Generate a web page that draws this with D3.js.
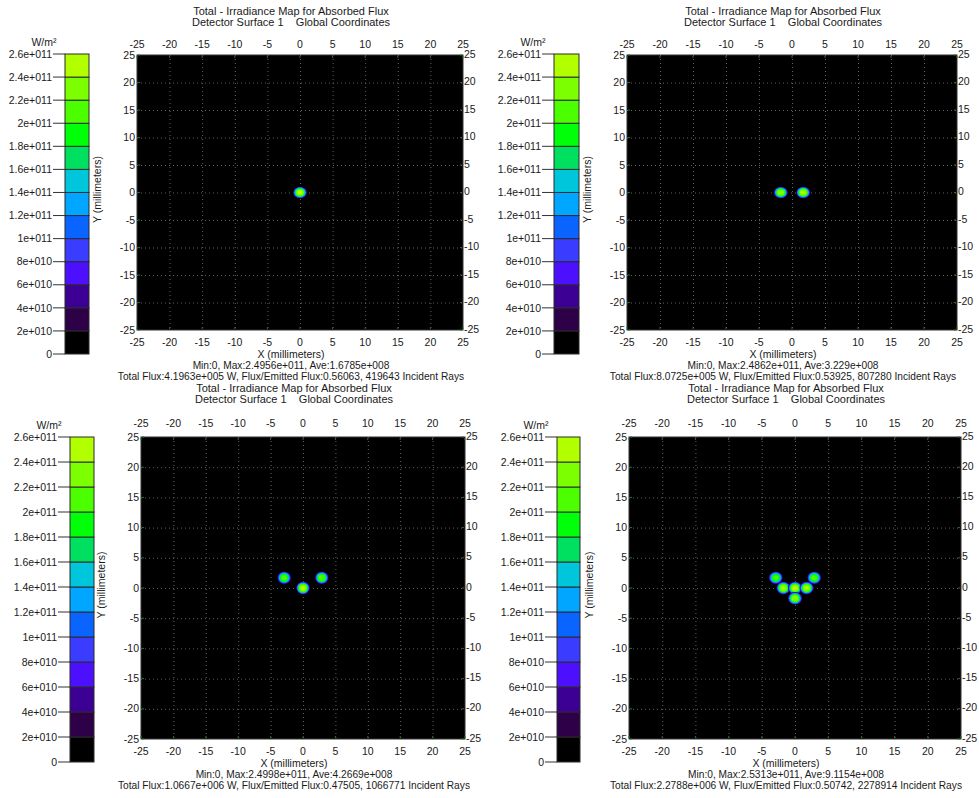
<!DOCTYPE html>
<html>
<head>
<meta charset="UTF-8">
<title>Irradiance Maps</title>
<script src="https://cdn.jsdelivr.net/npm/d3@7"></script>
<style>
body { margin: 0; background: #fff; }
svg { display: block; font-family: "Liberation Sans", Arial, sans-serif; }
.txt { fill: #1a1a1a; }
</style>
</head>
<body>
<svg id="chart" width="979" height="798"></svg>
<script>
// --- data ---
var titleLines = ["Total - Irradiance Map for Absorbed Flux", "Detector Surface 1    Global Coordinates"];
var axisTicks = [-25, -20, -15, -10, -5, 0, 5, 10, 15, 20, 25];
var barLevels = [0, 2e10, 4e10, 6e10, 8e10, 1e11, 1.2e11, 1.4e11, 1.6e11, 1.8e11, 2e11, 2.2e11, 2.4e11, 2.6e11];
var barLabels = ["0", "2e+010", "4e+010", "6e+010", "8e+010", "1e+011", "1.2e+011", "1.4e+011", "1.6e+011", "1.8e+011", "2e+011", "2.2e+011", "2.4e+011", "2.6e+011"];
var barColors = ["#000000", "#2e0048", "#3d0094", "#4c10ff", "#3a3cff", "#0a64ff", "#00a6ff", "#00c6dc", "#00e060", "#00ff08", "#4cff00", "#7cff00", "#b2ff00"];
var statsLines = [
  ["Min:0, Max:2.4956e+011, Ave:1.6785e+008", "Total Flux:4.1963e+005 W, Flux/Emitted Flux:0.56063, 419643 Incident Rays"],
  ["Min:0, Max:2.4862e+011, Ave:3.229e+008", "Total Flux:8.0725e+005 W, Flux/Emitted Flux:0.53925, 807280 Incident Rays"],
  ["Min:0, Max:2.4998e+011, Ave:4.2669e+008", "Total Flux:1.0667e+006 W, Flux/Emitted Flux:0.47505, 1066771 Incident Rays"],
  ["Min:0, Max:2.5313e+011, Ave:9.1154e+008", "Total Flux:2.2788e+006 W, Flux/Emitted Flux:0.50742, 2278914 Incident Rays"]
];
// spot centres (mm) and peak irradiance (W/m²)
var spots1 = [{x: 0, y: 0, peak: 2.4956e11}];
var spots2 = [{x: -1.7, y: 0, peak: 2.40e11}, {x: 1.7, y: 0, peak: 2.4862e11}];
var spots3 = [{x: -2.9, y: 1.7, peak: 2.15e11}, {x: 2.9, y: 1.7, peak: 2.2e11}, {x: 0, y: 0, peak: 2.4998e11}];
var spots4 = [{x: -2.9, y: 1.7, peak: 2.1e11}, {x: 2.9, y: 1.7, peak: 2.15e11},
              {x: -1.75, y: 0, peak: 2.45e11}, {x: 0, y: 0, peak: 2.5313e11}, {x: 1.75, y: 0, peak: 2.45e11},
              {x: 0, y: -1.7, peak: 2.4e11}];
// spot profile: fraction of peak -> radius (mm)
var profFrac = [0, 0.2, 0.4, 0.6, 0.8, 0.9, 0.97, 1];
var profRad = [1.08, 1.0, 0.9, 0.78, 0.62, 0.5, 0.34, 0];

// --- layout ---
var panels = [
  {spots: spots1, stats: statsLines[0], plot: [137, 463, 55, 330], bar: [65, 89, 54, 354], titleY: 11, topY: 44},
  {spots: spots2, stats: statsLines[1], plot: [627, 957, 55, 330], bar: [554, 579, 54, 354], titleY: 11, topY: 44},
  {spots: spots3, stats: statsLines[2], plot: [141, 465, 437, 739], bar: [70, 94, 437, 762], titleY: 388, topY: 423},
  {spots: spots4, stats: statsLines[3], plot: [629, 961, 437, 739], bar: [557, 580, 437, 762], titleY: 388, topY: 423}
];

var svg = d3.select("#chart");
svg.append("rect").attr("width", 979).attr("height", 798).attr("fill", "#fff");
var defs = svg.append("defs");
defs.append("filter").attr("id", "soft").attr("x", "-50%").attr("y", "-50%").attr("width", "200%").attr("height", "200%")
  .append("feGaussianBlur").attr("stdDeviation", 0.7);

var profile = d3.scaleLinear().domain(profFrac).range(profRad).clamp(true);

panels.forEach(function(p) {
  var x = d3.scaleLinear().domain([-25, 25]).range([p.plot[0], p.plot[1]]),
      y = d3.scaleLinear().domain([-25, 25]).range([p.plot[3], p.plot[2]]),
      cb = d3.scaleLinear().domain([0, 2.6e11]).range([p.bar[3], p.bar[2]]),
      cx = (p.plot[0] + p.plot[1]) / 2 - 9,
      g = svg.append("g");

  // titles
  titleLines.forEach(function(t, i) {
    g.append("text").attr("class", "txt").attr("x", cx).attr("y", p.titleY + i * 11.5)
      .attr("dy", "0.35em").attr("text-anchor", "middle").attr("font-size", 11)
      .style("white-space", "pre").text(t);
  });

  // plot background
  g.append("rect").attr("x", p.plot[0]).attr("y", p.plot[2])
    .attr("width", p.plot[1] - p.plot[0]).attr("height", p.plot[3] - p.plot[2])
    .attr("fill", "#000").attr("stroke", "#333");

  // grid
  g.selectAll(".gx").data(axisTicks.slice(1, -1)).enter().append("line")
    .attr("stroke", "#626262").attr("stroke-dasharray", "1,3")
    .attr("x1", function(d) { return x(d) + 0.5; }).attr("x2", function(d) { return x(d) + 0.5; })
    .attr("y1", p.plot[2]).attr("y2", p.plot[3]);
  g.selectAll(".gy").data(axisTicks.slice(1, -1)).enter().append("line")
    .attr("stroke", "#626262").attr("stroke-dasharray", "1,3")
    .attr("y1", function(d) { return y(d) + 0.5; }).attr("y2", function(d) { return y(d) + 0.5; })
    .attr("x1", p.plot[0]).attr("x2", p.plot[1]);
  // small green edge ticks
  axisTicks.forEach(function(d) {
    [[x(d), p.plot[2] + 1, x(d), p.plot[2] + 3], [x(d), p.plot[3] - 3, x(d), p.plot[3] - 1],
     [p.plot[0] + 1, y(d), p.plot[0] + 3, y(d)], [p.plot[1] - 3, y(d), p.plot[1] - 1, y(d)]].forEach(function(s) {
      g.append("line").attr("x1", s[0]).attr("y1", s[1]).attr("x2", s[2]).attr("y2", s[3])
        .attr("stroke", "#1f7a1f").attr("stroke-width", 1);
    });
  });

  // spots: concentric rings for every colour band below the peak
  var sg = g.append("g").attr("filter", "url(#soft)");
  var kx = Math.abs(x(1) - x(0)), ky = Math.abs(y(1) - y(0));
  p.spots.forEach(function(s) {
    barLevels.slice(1, -1).forEach(function(lv, i) {
      if (lv >= s.peak) return;
      var r = profile(lv / s.peak);
      sg.append("ellipse").attr("cx", x(s.x)).attr("cy", y(s.y))
        .attr("rx", r * kx).attr("ry", r * ky).attr("fill", barColors[i + 1]);
    });
  });

  // axis labels
  var fs = 10.5;
  axisTicks.forEach(function(d) {
    g.append("text").attr("class", "txt").attr("x", x(d)).attr("y", p.topY).attr("dy", "0.35em")
      .attr("text-anchor", "middle").attr("font-size", fs).text(d);
    g.append("text").attr("class", "txt").attr("x", x(d)).attr("y", p.plot[3] + 12).attr("dy", "0.35em")
      .attr("text-anchor", "middle").attr("font-size", fs).text(d);
    g.append("text").attr("class", "txt").attr("x", p.plot[0] - 2).attr("y", y(d)).attr("dy", "0.35em")
      .attr("text-anchor", "end").attr("font-size", fs).text(d);
    g.append("text").attr("class", "txt").attr("x", p.plot[1] + 1).attr("y", y(d) - 1).attr("dy", "0.35em")
      .attr("text-anchor", "start").attr("font-size", fs).text(d);
  });
  g.append("text").attr("class", "txt").attr("font-size", 10.5).attr("text-anchor", "middle")
    .attr("transform", "translate(" + (p.plot[0] - 40) + "," + ((p.plot[2] + p.plot[3]) / 2 - 3) + ") rotate(-90)")
    .attr("dy", "0.35em").text("Y (millimeters)");
  g.append("text").attr("class", "txt").attr("x", cx).attr("y", p.plot[3] + 24).attr("dy", "0.35em")
    .attr("text-anchor", "middle").attr("font-size", 10.5).text("X (millimeters)");
  p.stats.forEach(function(t, i) {
    g.append("text").attr("class", "txt").attr("x", cx).attr("y", p.plot[3] + 35 + i * 11).attr("dy", "0.35em")
      .attr("text-anchor", "middle").attr("font-size", 10.2).text(t);
  });

  // colour bar
  var bw = p.bar[1] - p.bar[0];
  barColors.forEach(function(c, i) {
    g.append("rect").attr("x", p.bar[0]).attr("y", cb(barLevels[i + 1]))
      .attr("width", bw).attr("height", cb(barLevels[i]) - cb(barLevels[i + 1]))
      .attr("fill", c).attr("stroke", "#2a2a2a").attr("stroke-width", 1);
  });
  barLevels.forEach(function(lv, i) {
    g.append("line").attr("x1", p.bar[0] - 12).attr("x2", p.bar[0]).attr("y1", cb(lv)).attr("y2", cb(lv))
      .attr("stroke", "#333");
    g.append("text").attr("class", "txt").attr("x", p.bar[0] - 13).attr("y", cb(lv)).attr("dy", "0.35em")
      .attr("text-anchor", "end").attr("font-size", 10.5).text(barLabels[i]);
  });
  g.append("text").attr("class", "txt").attr("x", p.bar[0] - 21).attr("y", p.bar[2] - 12).attr("dy", "0.35em")
    .attr("text-anchor", "middle").attr("font-size", 10.5).text("W/m²");
});
</script>
</body>
</html>
